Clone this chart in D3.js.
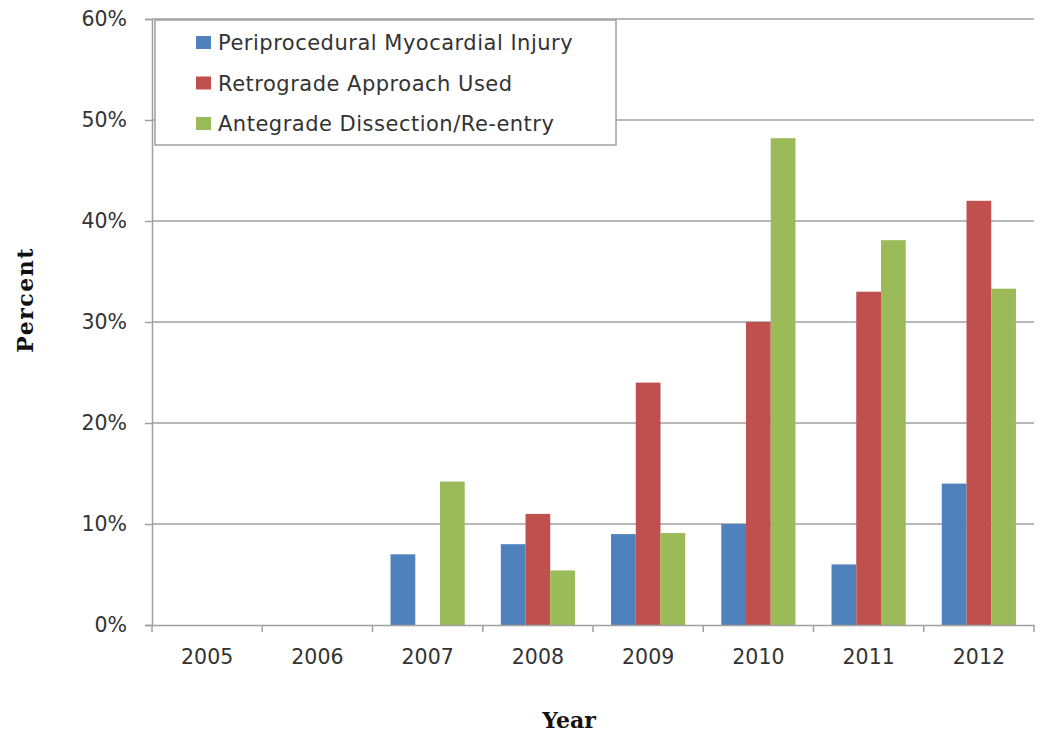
<!DOCTYPE html>
<html><head><meta charset="utf-8">
<script src="https://cdn.jsdelivr.net/npm/d3@7"></script>
<style>body{margin:0;background:#fff;}svg{display:block;}</style>
</head><body>
<svg id="c" width="1050" height="747"></svg>
<script>
const years = ["2005","2006","2007","2008","2009","2010","2011","2012"];
const seriesNames = ["Periprocedural Myocardial Injury","Retrograde Approach Used","Antegrade Dissection/Re-entry"];
const injury     = [null, null, 7, 8, 9, 10, 6, 14];
const retrograde = [null, null, null, 11, 24, 30, 33, 42];
const antegrade  = [null, null, 14.2, 5.4, 9.1, 48.2, 38.1, 33.3];
const yTicks = [0,10,20,30,40,50,60];
const colors = ["#4F81BD","#C0504D","#9BBB59"];
const seriesValues = [injury, retrograde, antegrade];

const svg = d3.select("#c");
const L = 152, R = 1034, T = 19, B = 625;
const x = d3.scaleBand().domain(years).range([L, R]).paddingInner(0).paddingOuter(0);
const xs = d3.scaleBand().domain(d3.range(3)).range([0, x.bandwidth()]).paddingInner(0).paddingOuter(0.73);
const y = d3.scaleLinear().domain([0, 60]).range([B, T]);
const gridColor = "#a0a0a0";
const font = "'DejaVu Sans', sans-serif";
const textColor = "#333333";

// gridlines
svg.append("g").selectAll("line").data(yTicks.filter(d=>d>0)).join("line")
  .attr("x1", L).attr("x2", R).attr("y1", d=>y(d)).attr("y2", d=>y(d))
  .attr("stroke", gridColor).attr("stroke-width", 1.5);

// bars
seriesValues.forEach((vals, si) => {
  svg.append("g").selectAll("rect")
    .data(years.map((yr,i)=>({yr, v: vals[i]})).filter(d=>d.v!=null))
    .join("rect")
    .attr("x", d => x(d.yr) + xs(si))
    .attr("width", xs.bandwidth())
    .attr("y", d => y(d.v))
    .attr("height", d => y(0) - y(d.v))
    .attr("fill", colors[si]);
});

// y axis
const yAxis = d3.axisLeft(y).tickValues(yTicks).tickFormat(d => d + "%").tickSize(7).tickPadding(18);
const gy = svg.append("g").attr("transform", `translate(${L},0)`).call(yAxis);
gy.select(".domain").attr("stroke", gridColor).attr("stroke-width", 1.5);
gy.selectAll(".tick line").attr("stroke", gridColor).attr("stroke-width", 1.5);
gy.selectAll(".tick text").attr("font-family", font).attr("font-size", 20.5).attr("fill", textColor);

// x axis
const xAxis = d3.axisBottom(x).tickSize(0).tickPadding(24);
const gx = svg.append("g").attr("transform", `translate(0,${B})`).call(xAxis);
gx.select(".domain").attr("stroke", gridColor).attr("stroke-width", 1.5);
gx.selectAll(".tick text").attr("font-family", font).attr("font-size", 20.5).attr("fill", textColor);
// category boundary ticks
svg.append("g").selectAll("line").data(years.concat(["end"])).join("line")
  .attr("x1", (d,i)=> L + i*x.step()).attr("x2", (d,i)=> L + i*x.step())
  .attr("y1", B).attr("y2", B + 7).attr("stroke", gridColor).attr("stroke-width", 1.5);

// axis titles
svg.append("text").attr("transform", `translate(33,300) rotate(-90)`)
  .attr("text-anchor","middle").attr("font-family","'DejaVu Serif', serif").attr("font-weight","bold")
  .attr("font-size", 22).attr("letter-spacing", 1.5).attr("fill","#111").text("Percent");
svg.append("text").attr("x", 569).attr("y", 728)
  .attr("text-anchor","middle").attr("font-family","'DejaVu Serif', serif").attr("font-weight","bold")
  .attr("font-size", 22).attr("fill","#111").text("Year");

// legend
const lg = svg.append("g");
lg.append("rect").attr("x", 155).attr("y", 20).attr("width", 461).attr("height", 125)
  .attr("fill", "#fff").attr("stroke", gridColor).attr("stroke-width", 1.5);
seriesNames.forEach((n, i) => {
  const base = 50 + i * 40.5;
  lg.append("rect").attr("x", 196).attr("y", base - 14).attr("width", 15).attr("height", 13).attr("fill", colors[i]);
  lg.append("text").attr("x", 218).attr("y", base).attr("font-family", font).attr("font-size", 21)
    .attr("letter-spacing", 0.5).attr("fill", textColor).text(n);
});
</script>
</body></html>
